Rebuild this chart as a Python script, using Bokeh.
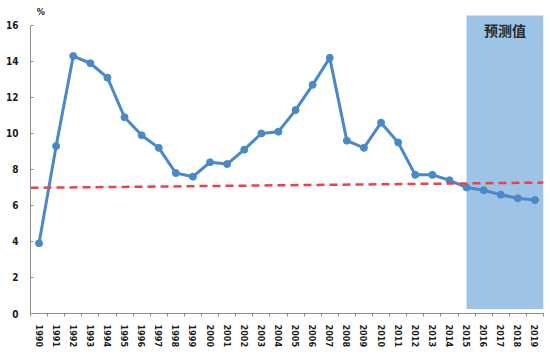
from bokeh.plotting import figure
from bokeh.models import Range1d, FixedTicker, Label, LinearAxis
from bokeh.embed import file_html
from bokeh.resources import INLINE

years = [str(y) for y in range(1990, 2020)]
growth = [3.9, 9.3, 14.3, 13.9, 13.1, 10.9, 9.9, 9.2, 7.8, 7.6,
          8.4, 8.3, 9.1, 10.0, 10.1, 11.3, 12.7, 14.2, 9.6, 9.2,
          10.6, 9.5, 7.7, 7.7, 7.4, 7.0, 6.85, 6.6, 6.4, 6.3]
trend_ends = [6.98, 7.27]
forecast_start = "2015"
forecast_label = "预测值"
y_ticks = [0, 2, 4, 6, 8, 10, 12, 14, 16]
unit_label = "%"

n = len(years)
xs = [i + 0.5 for i in range(n)]

p = figure(width=550, height=354, output_backend="svg", toolbar_location=None,
           x_range=Range1d(0, n), y_range=Range1d(0, 17.33),
           min_border_left=30, min_border_right=7, min_border_top=1,
           min_border_bottom=41, x_axis_type=None, y_axis_type=None)
p.outline_line_color = None
p.xgrid.visible = False
p.ygrid.visible = False
p.background_fill_color = "white"
p.border_fill_color = "white"

# forecast band
fs = years.index(forecast_start) + 0.5
p.quad(left=[fs], right=[n], bottom=[0.25], top=[16.55],
       fill_color="#9DC3E6", line_color=None)

# series
p.line(xs, growth, line_color="#4A89C8", line_width=3)
p.scatter(xs, growth, size=7, fill_color="#4A89C8", line_color="#4A89C8")

# trend line
p.line([0, n], trend_ends, line_color="#E8434A", line_width=2.5, line_dash="8 5")

# axes
font = "DejaVu Sans Condensed"
yax = LinearAxis(ticker=FixedTicker(ticks=y_ticks), bounds=(0, 16))
yax.axis_line_color = "#8c8c8c"
yax.major_tick_line_color = "#8c8c8c"
yax.major_tick_in = 3
yax.major_tick_out = 0
yax.minor_tick_line_color = None
yax.major_label_text_font = font
yax.major_label_text_font_style = "bold"
yax.major_label_text_font_size = "10px"
yax.major_label_text_color = "#1a1a1a"
yax.major_label_standoff = 12
p.add_layout(yax, "left")

xax = LinearAxis(ticker=FixedTicker(ticks=xs, minor_ticks=list(range(n + 1))))
xax.major_label_overrides = {x: y for x, y in zip(xs, years)}
xax.axis_line_color = "#8c8c8c"
xax.major_tick_line_color = None
xax.major_tick_in = 0
xax.major_tick_out = 0
xax.minor_tick_line_color = "#8c8c8c"
xax.minor_tick_in = 0
xax.minor_tick_out = 3
xax.major_label_orientation = "vertical"
xax.major_label_text_font = font
xax.major_label_text_font_style = "bold"
xax.major_label_text_font_size = "9px"
xax.major_label_text_color = "#1a1a1a"
xax.major_label_standoff = 8
p.add_layout(xax, "below")

p.add_layout(Label(x=0.6, y=16.73, text=unit_label, text_font=font,
                   text_font_style="bold", text_font_size="9px", text_color="#1a1a1a",
                   text_align="center", text_baseline="middle"))
p.add_layout(Label(x=(fs + n) / 2, y=15.75, text=forecast_label,
                   text_font="Noto Sans CJK SC", text_font_style="bold",
                   text_font_size="14px", text_color="#2a2a2a",
                   text_align="center", text_baseline="middle"))

open("out.html", "w").write(file_html(p, INLINE))
